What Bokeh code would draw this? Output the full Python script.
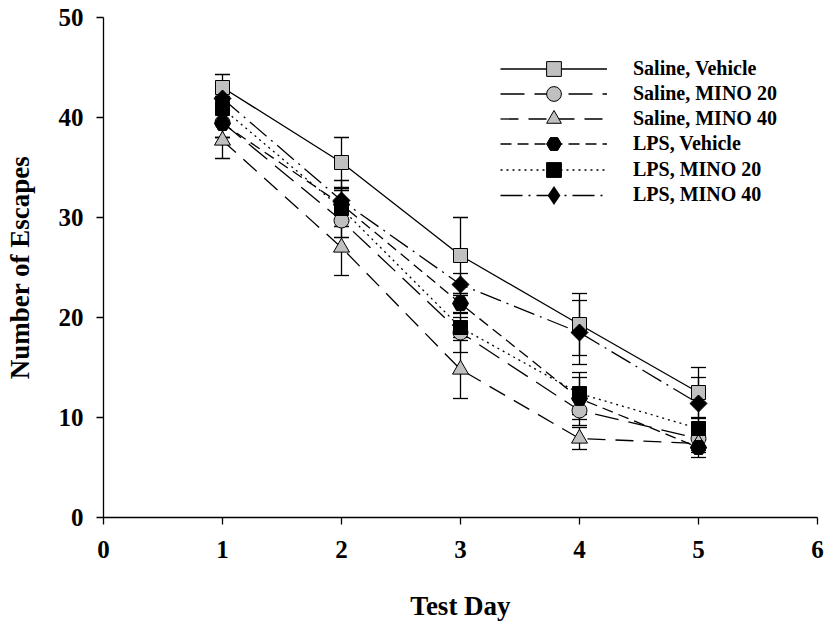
import numpy as np
from bokeh.plotting import figure
from bokeh.models import (ColumnDataSource, Whisker, TeeHead, Legend, LegendItem,
                          FixedTicker)
from bokeh.embed import file_html
from bokeh.resources import INLINE

days = [1, 2, 3, 4, 5]

series_names = ["Saline, Vehicle", "Saline, MINO 20", "Saline, MINO 40",
                "LPS, Vehicle", "LPS, MINO 20", "LPS, MINO 40"]

saline_vehicle = [43.0, 35.5, 26.2, 19.3, 12.5]
saline_mino20 = [39.5, 29.7, 18.5, 10.7, 7.9]
saline_mino40 = [37.7, 27.0, 14.8, 7.9, 7.4]
lps_vehicle = [39.4, 31.3, 21.4, 11.9, 7.0]
lps_mino20 = [40.9, 30.9, 19.0, 12.4, 8.9]
lps_mino40 = [41.9, 31.7, 23.3, 18.5, 11.4]

saline_vehicle_err = [1.3, 2.5, 3.8, 3.1, 2.5]
saline_mino20_err = [1.5, 1.7, 2.0, 1.5, 1.2]
saline_mino40_err = [1.8, 2.8, 2.9, 1.1, 0.9]
lps_vehicle_err = [1.4, 1.6, 1.0, 2.1, 1.0]
lps_mino20_err = [1.2, 1.8, 1.0, 2.1, 1.0]
lps_mino40_err = [1.3, 2.0, 1.1, 3.2, 2.6]

x_ticks = [0, 1, 2, 3, 4, 5, 6]
y_ticks = [0, 10, 20, 30, 40, 50]

values = [saline_vehicle, saline_mino20, saline_mino40, lps_vehicle, lps_mino20, lps_mino40]
errors = [saline_vehicle_err, saline_mino20_err, saline_mino40_err,
          lps_vehicle_err, lps_mino20_err, lps_mino40_err]

styles = [
    dict(dash="solid", marker="square", fill="#c0c0c0", size=14, angle=0.0, leg_h=37),
    dict(dash="24 10", marker="circle", fill="#c0c0c0", size=15, angle=0.0, leg_h=37),
    dict(dash="18 10", marker="triangle", fill="#c0c0c0", size=16, angle=0.0, leg_h=37),
    dict(dash="11 6", marker="hex", fill="black", size=16, angle=0.0, leg_h=37),
    dict(dash="2 4", marker="square", fill="black", size=14, angle=0.0, leg_h=37),
    dict(dash="22 6 2 6", marker="square", fill="black", size=12, angle=np.pi / 4, leg_h=48),
]

FONT = "Liberation Serif"
FRAME_H = 500          # pixel height of the plot frame
LEG_X = 397            # legend left, from frame left
LEG_TOP = 51           # first legend row centre, from frame top
LEG_PITCH = 25.3       # legend row pitch

p = figure(width=828, height=624, output_backend="svg", toolbar_location=None,
           x_range=(0, 6), y_range=(0, 50),
           min_border_left=103, min_border_right=11, min_border_top=17, min_border_bottom=107)

p.xgrid.visible = False
p.ygrid.visible = False
p.outline_line_color = None
p.background_fill_color = "white"

for ax in (p.xaxis[0], p.yaxis[0]):
    ax.axis_line_width = 1.3
    ax.major_tick_in = 0
    ax.major_tick_out = 7
    ax.major_tick_line_width = 1.3
    ax.minor_tick_line_color = None
    ax.major_label_text_font = FONT
    ax.major_label_text_font_style = "bold"
    ax.major_label_text_font_size = "25px"
    ax.major_label_text_color = "black"
    ax.axis_label_text_font = FONT
    ax.axis_label_text_font_style = "bold"
    ax.axis_label_text_font_size = "27px"
    ax.axis_label_text_color = "black"

p.xaxis.ticker = FixedTicker(ticks=x_ticks)
p.yaxis.ticker = FixedTicker(ticks=y_ticks)
p.xaxis.axis_label = "Test Day"
p.yaxis.axis_label = "Number of Escapes"
p.xaxis.major_label_standoff = 16
p.yaxis.major_label_standoff = 13
p.xaxis.axis_label_standoff = 30
p.yaxis.axis_label_standoff = 21

for i, (name, vals, errs, st) in enumerate(zip(series_names, values, errors, styles)):
    src = ColumnDataSource(dict(
        x=days, y=vals,
        upper=[v + e for v, e in zip(vals, errs)],
        lower=[v - e for v, e in zip(vals, errs)],
    ))
    w = Whisker(base="x", upper="upper", lower="lower", source=src,
                line_color="black", line_width=1.3,
                upper_head=TeeHead(size=15, line_color="black", line_width=1.3),
                lower_head=TeeHead(size=15, line_color="black", line_width=1.3))
    p.add_layout(w)
    ln = p.line("x", "y", source=src, line_color="black", line_width=1.3,
                line_dash=st["dash"])
    sc = p.scatter("x", "y", source=src, marker=st["marker"], size=st["size"],
                   angle=st["angle"], fill_color=st["fill"], line_color="black",
                   line_width=1.0)
    leg_marker = sc
    if st["angle"] != 0.0:
        # a diamond drawn inside the rotated square, so the legend shows a diamond
        leg_marker = p.scatter("x", "y", source=src, marker="diamond",
                               size=st["size"] * 1.4, fill_color=st["fill"],
                               line_color="black", line_width=0.0)
    h = st["leg_h"]
    y_bottom = FRAME_H - (LEG_TOP + LEG_PITCH * i) - h / 2
    legend = Legend(items=[LegendItem(label=name, renderers=[ln, leg_marker])],
                    location=(LEG_X, y_bottom), padding=0, margin=0,
                    glyph_width=107, glyph_height=h, label_height=h, spacing=0,
                    label_standoff=26, border_line_color=None,
                    background_fill_alpha=0,
                    label_text_font=FONT, label_text_font_style="bold",
                    label_text_font_size="20px", label_text_color="black")
    p.add_layout(legend)

open("out.html", "w").write(file_html(p, INLINE))
